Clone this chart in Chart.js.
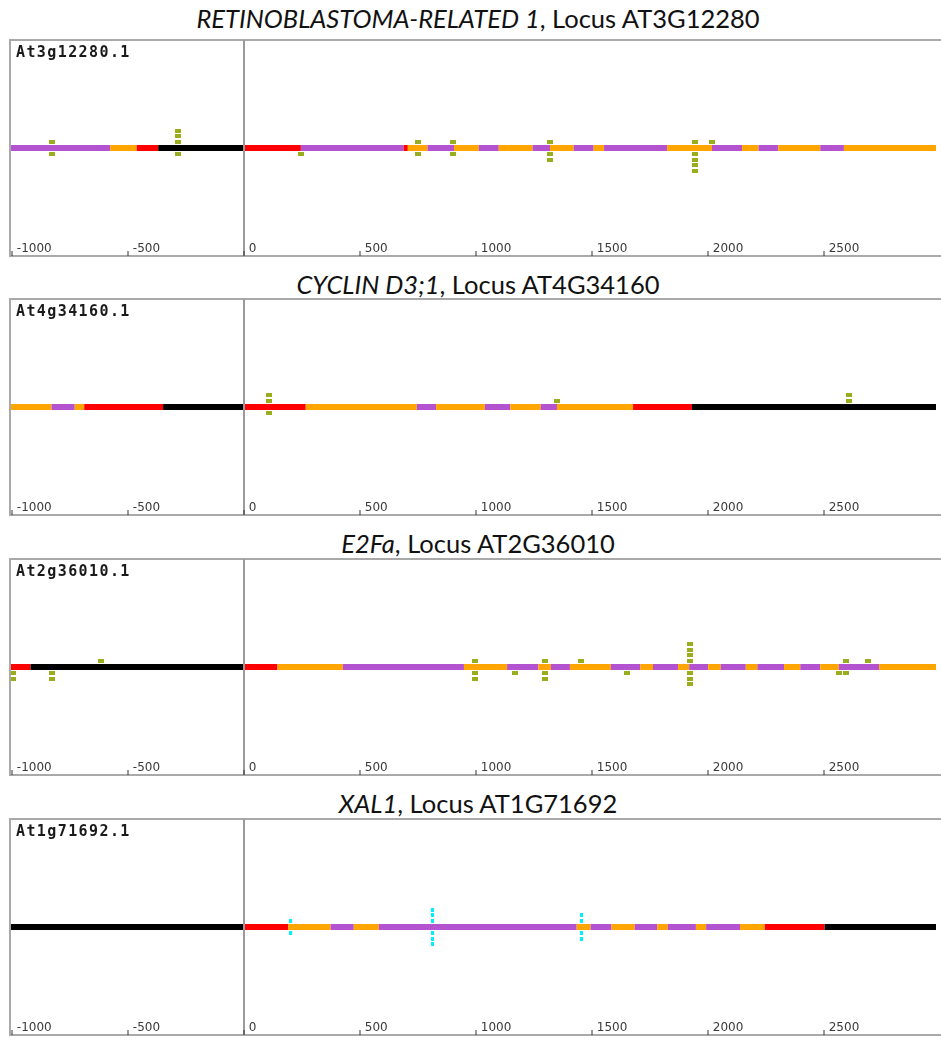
<!DOCTYPE html>
<html><head><meta charset="utf-8">
<script src="https://cdn.jsdelivr.net/npm/chart.js@4/dist/chart.umd.min.js"></script>
<style>
html,body{margin:0;padding:0;background:#fff;overflow:hidden}
#wrap{position:relative;width:941px;height:1040px;overflow:hidden}
.ttl{position:absolute;left:18px;width:920px;text-align:center;font-family:Lato,'Open Sans',sans-serif;font-size:25.5px;line-height:30px;color:#111;white-space:nowrap}
.mdl{position:absolute;left:16px;font-family:'DejaVu Sans Mono',monospace;font-size:15px;font-weight:bold;line-height:14px;letter-spacing:1.4px;color:#1a1a1a}
canvas{position:absolute;left:0}
</style></head><body><div id="wrap"></div>
<script>
// ---------------- data ----------------
const TICK_VALUES = [-1000, -500, 0, 500, 1000, 1500, 2000, 2500];
const TICK_LABELS = ['-1000', '-500', '0', '500', '1000', '1500', '2000', '2500'];

const GENE_NAMES = ['RETINOBLASTOMA-RELATED 1', 'CYCLIN D3;1', 'E2Fa', 'XAL1'];
const LOCUS_IDS = ['AT3G12280', 'AT4G34160', 'AT2G36010', 'AT1G71692'];
const MODEL_IDS = ['At3g12280.1', 'At4g34160.1', 'At2g36010.1', 'At1g71692.1'];

// region boundaries (bp relative to TSS) and region kind of each span
// P = purple, O = orange, R = red, K = black
const RBR1_BOUNDS = [-1100, -576, -462, -369, 0, 246, 689, 707, 792, 906, 1013, 1099, 1245, 1320, 1422, 1508, 1553, 1825, 2018, 2148, 2219, 2304, 2485, 2587, 3100];
const RBR1_REGIONS = ['P','O','R','K','R','P','R','O','P','O','P','O','P','O','P','O','P','O','P','O','P','O','P','O'];

const CYCD31_BOUNDS = [-1100, -829, -729, -688, -348, 0, 267, 746, 829, 1039, 1149, 1280, 1350, 1678, 1932, 3100];
const CYCD31_REGIONS = ['O','P','O','R','K','R','O','P','O','P','O','P','O','R','K'];

const E2FA_BOUNDS = [-1100, -919, 0, 145, 427, 949, 1135, 1270, 1324, 1406, 1582, 1709, 1764, 1872, 1920, 2002, 2056, 2164, 2214, 2329, 2399, 2485, 2565, 2739, 3100];
const E2FA_REGIONS = ['R','K','R','O','P','O','P','O','P','O','P','O','P','O','P','O','P','O','P','O','P','O','P','O'];

const XAL1_BOUNDS = [-1100, 0, 191, 374, 474, 582, 1435, 1495, 1585, 1685, 1782, 1828, 1949, 1993, 2139, 2246, 2504, 3100];
const XAL1_REGIONS = ['K','R','O','P','O','P','O','P','O','P','O','P','O','P','O','R','K'];

// binding sites: [position, hits above, hits below]
const RBR1_SITES = [[-826,1,1],[-283,3,1],[247,0,1],[753,1,1],[903,1,1],[1321,1,2],[1944,1,4],[2019,1,0]];
const CYCD31_SITES = [[107,2,1],[1352,1,0],[2608,2,0]];
const E2FA_SITES = [[-993,0,2],[-826,0,2],[-615,1,0],[996,1,2],[1170,0,1],[1299,1,2],[1453,1,0],[1650,0,1],[1922,4,3],[2564,0,1],[2594,1,1],[2690,1,0]];
const XAL1_SITES = [[200,1,1],[813,3,3],[1456,2,2]];

// ---------------- style / layout ----------------
const REGION_COLORS = { P: '#b353d0', O: '#ffa500', R: '#ff0000', K: '#000000' };
const X_MIN = -1008, X_MAX = 2984;
const BOX_TOPS = [37, 296, 556, 816];
const TITLE_TOPS = [3, 269, 528, 788];
const BOX_H = 223;

function markerCanvas(w, h, color) {
  const c = document.createElement('canvas');
  c.width = w; c.height = h;
  const g = c.getContext('2d');
  g.fillStyle = color; g.fillRect(0, 0, w, h);
  return c;
}
const GREEN_MARK = markerCanvas(6, 4, '#9aae1d');
const CYAN_MARK = markerCanvas(3, 4, '#00f0ff');

const boxPlugin = {
  id: 'box',
  afterDatasetsDraw(chart) {
    const { ctx, chartArea: a } = chart;
    ctx.save();
    ctx.strokeStyle = '#a9a9a9';
    ctx.lineWidth = 2;
    ctx.beginPath();
    ctx.moveTo(a.right + 5, a.top);
    ctx.lineTo(a.left, a.top);
    ctx.lineTo(a.left, a.bottom);
    ctx.lineTo(a.right + 5, a.bottom);
    ctx.stroke();
    ctx.restore();
  }
};

const wrap = document.getElementById('wrap');

function buildPanel(i, bounds, regions, sites, mark) {
  const t = document.createElement('div');
  t.className = 'ttl';
  t.style.top = TITLE_TOPS[i] + 'px';
  t.innerHTML = '<i>' + GENE_NAMES[i] + '</i>, Locus ' + LOCUS_IDS[i];
  wrap.appendChild(t);

  const cv = document.createElement('canvas');
  cv.width = 941; cv.height = BOX_H + 3;
  cv.style.top = (BOX_TOPS[i] - 2) + 'px';
  wrap.appendChild(cv);

  const m = document.createElement('div');
  m.className = 'mdl';
  m.style.top = (BOX_TOPS[i] + 8) + 'px';
  m.textContent = MODEL_IDS[i];
  wrap.appendChild(m);

  const pts = [];
  sites.forEach(([x, up, down]) => {
    for (let k = 1; k <= up; k++) pts.push({ x, y: k });
    for (let k = 1; k <= down; k++) pts.push({ x, y: -k });
  });

  new Chart(cv, {
    type: 'scatter',
    data: {
      datasets: [
        {
          type: 'line',
          data: bounds.map(x => ({ x, y: 0 })),
          borderWidth: 6,
          borderColor: '#000',
          borderCapStyle: 'butt',
          pointRadius: 0,
          tension: 0,
          clip: 0,
          order: 1,
          segment: { borderColor: c => REGION_COLORS[regions[c.p0DataIndex]] }
        },
        {
          type: 'scatter',
          data: pts,
          pointStyle: mark,
          pointRadius: 3,
          order: 0,
          clip: 0
        }
      ]
    },
    options: {
      responsive: false,
      animation: false,
      devicePixelRatio: 1,
      events: [],
      layout: { padding: { left: 10, top: 2, right: 0, bottom: 1 } },
      plugins: { legend: { display: false }, tooltip: { enabled: false }, title: { display: false } },
      scales: {
        x: {
          type: 'linear',
          position: 'bottom',
          min: X_MIN,
          max: X_MAX,
          afterBuildTicks: s => { s.ticks = TICK_VALUES.map(v => ({ value: v })); },
          afterFit: s => { s.height = 0; s.paddingLeft = 0; s.paddingRight = 0; },
          border: { display: false },
          grid: {
            z: 1,
            drawOnChartArea: true,
            drawTicks: true,
            tickLength: -5,
            tickWidth: 1,
            tickColor: '#333',
            lineWidth: 2,
            color: c => (c.tick && c.tick.value === 0) ? '#9a9a9a' : 'rgba(0,0,0,0)'
          },
          ticks: {
            z: 1,
            mirror: true,
            autoSkip: false,
            maxRotation: 0,
            align: 'start',
            labelOffset: 5,
            padding: 0,
            color: '#3a3a3a',
            font: { family: 'DejaVu Sans', size: 12 },
            callback: v => TICK_LABELS[TICK_VALUES.indexOf(v)]
          }
        },
        y: {
          type: 'linear',
          display: false,
          min: -18.58,
          max: 18.58
        }
      }
    },
    plugins: [boxPlugin]
  });
}

buildPanel(0, RBR1_BOUNDS, RBR1_REGIONS, RBR1_SITES, GREEN_MARK);
buildPanel(1, CYCD31_BOUNDS, CYCD31_REGIONS, CYCD31_SITES, GREEN_MARK);
buildPanel(2, E2FA_BOUNDS, E2FA_REGIONS, E2FA_SITES, GREEN_MARK);
buildPanel(3, XAL1_BOUNDS, XAL1_REGIONS, XAL1_SITES, CYAN_MARK);
</script>
</body></html>
